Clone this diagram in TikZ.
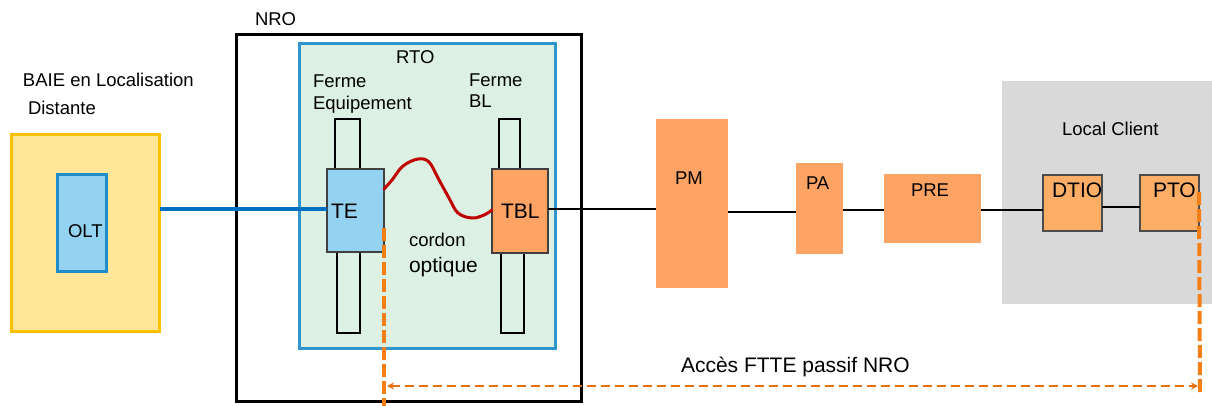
\documentclass[tikz,border=0pt]{standalone}
\usepackage{fontspec}
\setmainfont{Liberation Sans}
\usetikzlibrary{arrows.meta}
\definecolor{baiefill}{HTML}{FFE699}
\definecolor{baieline}{HTML}{FFC000}
\definecolor{oltfill}{HTML}{93D2F0}
\definecolor{oltline}{HTML}{1F8DCB}
\definecolor{rtoline}{HTML}{2E96CC}
\definecolor{rtofill}{HTML}{DDF0E4}
\definecolor{orangebox}{HTML}{FDA464}
\definecolor{dtiofill}{HTML}{FDAE66}
\definecolor{grayzone}{HTML}{D9D9D9}
\definecolor{bluewire}{HTML}{0070C0}
\definecolor{cordonred}{HTML}{C00000}
\definecolor{dashorange}{HTML}{F57F17}
\definecolor{arroworange}{HTML}{E5700F}
\tikzset{
  rbox/.style={rectangle, inner sep=0pt, outer sep=0pt},
  lbl/.style={anchor=base west, inner sep=0pt, outer sep=0pt, font=\fontsize{18.5}{22}\selectfont},
  lblbig/.style={anchor=base west, inner sep=0pt, outer sep=0pt, font=\fontsize{21}{25}\selectfont},
  bar/.style={rbox, draw=black, line width=1.2pt},
  obox/.style={rbox, fill=orangebox},
  thin/.style={draw=black, line width=1.3pt},
  vdash/.style={draw=dashorange, line width=4pt, dash pattern=on 13pt off 4pt},
  hdash/.style={draw=arroworange, line width=2pt, dash pattern=on 9pt off 5pt},
}
\begin{document}
\begin{tikzpicture}[x=1pt,y=-1pt]
\useasboundingbox (0,0) rectangle (1212,405);
% left: BAIE
\node[rbox, draw=baieline, fill=baiefill, line width=3pt, minimum width=148pt, minimum height=197pt] (baie) at (85.5,233) {};
\node[rbox, draw=oltline, fill=oltfill, line width=3.5pt, minimum width=49pt, minimum height=97pt] (olt) at (82,223) {};
\node[lbl] (olttxt) at (68,237) {OLT};
\node[lbl] (baietxt1) at (23,86) {BAIE en Localisation};
\node[lbl] (baietxt2) at (28,114) {Distante};
% NRO / RTO
\node[rbox, draw=black, line width=3.5pt, minimum width=345pt, minimum height=367pt] (nro) at (409,218) {};
\node[lbl] (nrotxt) at (255,25) {NRO};
\node[rbox, draw=rtoline, fill=rtofill, line width=3pt, minimum width=256pt, minimum height=305pt] (rto) at (427.5,196) {};
\node[lbl] (rtotxt) at (396,63) {RTO};
\node[lbl] (fe1) at (313,87) {Ferme};
\node[lbl] (fe2) at (313,109) {Equipement};
\node[lbl] (fb1) at (469,86) {Ferme};
\node[lbl] (fb2) at (469,107) {BL};
\node[bar, minimum width=25pt, minimum height=50pt] (bar1) at (347.5,144) {};
\node[bar, minimum width=23pt, minimum height=81pt] (bar2) at (348.5,292.5) {};
\node[bar, minimum width=21pt, minimum height=50pt] (bar3) at (509.5,144) {};
\node[bar, minimum width=23pt, minimum height=80pt] (bar4) at (512.5,293) {};
\node[rbox, draw=black!75, fill=oltfill, line width=1.2pt, minimum width=57pt, minimum height=83pt] (te) at (355.5,210.5) {};
\node[lblbig] (tetxt) at (331,218) {TE};
\node[rbox, draw=black!75, fill=orangebox, line width=1.2pt, minimum width=56pt, minimum height=84pt] (tbl) at (520,211) {};
\node[lblbig] (tbltxt) at (501,218) {TBL};
\node[lbl] (cordtxt) at (409,246) {cordon};
\node[lblbig] (opttxt) at (409,272) {optique};
% chain
\node[obox, minimum width=72pt, minimum height=169pt] (pm) at (692,203.5) {};
\node[lbl] (pmtxt) at (675,184) {PM};
\node[obox, minimum width=47pt, minimum height=91pt] (pa) at (819.5,208.5) {};
\node[lbl] (patxt) at (806,189) {PA};
\node[obox, minimum width=97pt, minimum height=69pt] (pre) at (932.5,208.5) {};
\node[lbl] (pretxt) at (911,196) {PRE};
% local client
\node[rbox, fill=grayzone, minimum width=210pt, minimum height=223pt] (local) at (1107,192.5) {};
\node[lbl] (localtxt) at (1062,135) {Local Client};
\node[rbox, draw=black!70, fill=dtiofill, line width=2pt, minimum width=59pt, minimum height=56pt] (dtio) at (1072.5,203) {};
\node[rbox, draw=black!70, fill=dtiofill, line width=2pt, minimum width=59pt, minimum height=56pt] (pto) at (1169.5,203) {};
\node[lblbig] (dtiotxt) at (1052,197) {DTIO};
\node[lblbig] (ptotxt) at (1153,197) {PTO};
% connectors
\draw[draw=bluewire, line width=4pt] ([yshift=1.5pt]te.west) -- ([yshift=1.5pt]te.west -| baie.east);
\draw[cordonred, line width=3pt, line cap=round, line join=round]
  plot[smooth, tension=0.6] coordinates {([yshift=21.5pt]te.east) (392,180) (403,166) (418,159) (429,162) (438,178) (449,198) (458,213) (472,218) (484,215) ([yshift=1pt]tbl.west)};
\draw[thin] ([yshift=2pt]tbl.east) -- ([yshift=2pt]tbl.east -| pm.west);
\draw[thin] ([yshift=-3.5pt]pa.west) -- ([yshift=-3.5pt]pa.west -| pm.east);
\draw[thin] ([yshift=-1.5pt]pre.west) -- ([yshift=-1.5pt]pre.west -| pa.east);
\draw[thin] ([yshift=-1.5pt]pre.east) -- ([yshift=-1.5pt]pre.east -| dtio.west);
\draw[thin] ([yshift=-4pt]dtio.east) -- ([yshift=-4pt]pto.west);
% dashed access
\coordinate (ls) at ([yshift=-17.5pt]te.east);
\coordinate (le) at (384,406);
\coordinate (rs) at ([yshift=11pt]pto.east);
\coordinate (re) at (1200,395);
\draw[vdash] (ls) -- (le);
\draw[vdash] (rs) -- (re);
\coordinate (al) at (387,386);
\coordinate (ar) at (1198,386);
\draw[hdash, {Stealth[length=7pt,width=7pt,open]}-{Stealth[length=7pt,width=7pt,open]}] (al) -- (ar);
\node[lblbig] (accestxt) at (681,372) {Accès FTTE passif NRO};
\end{tikzpicture}
\end{document}
